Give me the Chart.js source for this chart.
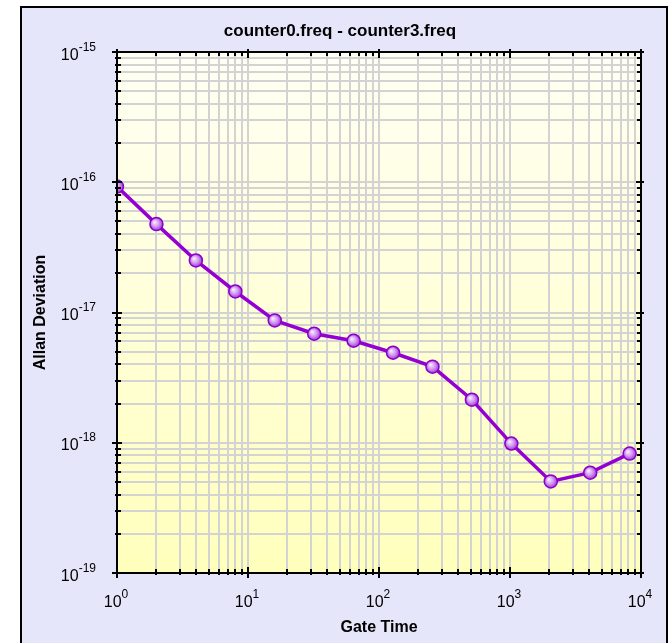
<!DOCTYPE html>
<html>
<head>
<meta charset="utf-8">
<style>
  html, body { margin: 0; padding: 0; background: #ffffff; }
  #wrap { width: 669px; height: 643px; }
</style>
<script src="https://cdn.jsdelivr.net/npm/chart.js@4.4.1/dist/chart.umd.min.js"></script>
</head>
<body>
<div id="wrap"><canvas id="c" width="669" height="643"></canvas></div>
<script>
// ---- Data ----
const gateTimes = [1, 2, 4, 8, 16, 32, 64, 128, 256, 512, 1024, 2048, 4096, 8192];
const allanDev = [9.27e-17, 4.77e-17, 2.51e-17, 1.45e-17, 8.7e-18, 6.87e-18, 6.07e-18,
                  4.91e-18, 3.84e-18, 2.14e-18, 9.86e-19, 5.05e-19, 5.89e-19, 8.26e-19];
const xTickExps = [0, 1, 2, 3, 4];
const yTickExps = [-19, -18, -17, -16, -15];
const titleText = 'counter0.freq - counter3.freq';
const xTitle = 'Gate Time';
const yTitle = 'Allan Deviation';

function logTicks(exps) {
  const t = [];
  for (let i = 0; i < exps.length - 1; i++) {
    for (let m = 1; m <= 9; m++) t.push({ value: m * Math.pow(10, exps[i]), major: m === 1 });
  }
  t.push({ value: Math.pow(10, exps[exps.length - 1]), major: true });
  return t;
}

const FONT = '"Liberation Sans", Arial, Helvetica, sans-serif';

const decorPlugin = {
  id: 'decor',
  beforeDraw(chart) {
    const ctx = chart.ctx;
    const a = chart.chartArea;
    ctx.save();
    ctx.fillStyle = '#ffffff';
    ctx.fillRect(0, 0, chart.width, chart.height);
    ctx.fillStyle = '#e6e6fa';
    ctx.fillRect(21, 7, 646, 700);
    ctx.strokeStyle = '#000000';
    ctx.lineWidth = 2;
    ctx.strokeRect(21, 7, 646, 700);
    const g = ctx.createLinearGradient(0, a.top, 0, a.bottom);
    g.addColorStop(0, '#fffff4');
    g.addColorStop(1, '#ffffbc');
    ctx.fillStyle = g;
    ctx.fillRect(a.left, a.top, a.right - a.left, a.bottom - a.top);
    ctx.restore();
  },
  afterDraw(chart) {
    const ctx = chart.ctx;
    const a = chart.chartArea;
    const xs = chart.scales.x, ys = chart.scales.y;
    ctx.save();
    ctx.strokeStyle = '#000000';
    ctx.lineWidth = 2;
    ctx.lineCap = 'butt';
    // axis frame
    ctx.beginPath();
    ctx.moveTo(a.left, a.top); ctx.lineTo(a.right, a.top);
    ctx.lineTo(a.right, a.bottom); ctx.lineTo(a.left, a.bottom); ctx.closePath();
    ctx.stroke();
    // tick marks
    ctx.beginPath();
    xs.ticks.forEach(t => {
      const px = Math.round(xs.getPixelForValue(t.value));
      const outL = t.major ? 5 : 2, inL = t.major ? 6 : 4;
      ctx.moveTo(px, a.bottom + outL); ctx.lineTo(px, a.bottom - inL);
      ctx.moveTo(px, a.top - (t.major ? 3 : 0)); ctx.lineTo(px, a.top + inL);
    });
    ys.ticks.forEach(t => {
      const py = Math.round(ys.getPixelForValue(t.value));
      const outL = t.major ? 5 : 2, inL = t.major ? 5 : 4;
      ctx.moveTo(a.left - outL, py); ctx.lineTo(a.left + inL, py);
      ctx.moveTo(a.right + (t.major ? 3 : 0), py); ctx.lineTo(a.right - inL, py);
    });
    ctx.stroke();

    // tick labels
    const mainF = '16px ' + FONT, supF = '12px ' + FONT;
    ctx.fillStyle = '#000000';
    ctx.textBaseline = 'alphabetic';
    xTickExps.forEach(e => {
      const px = xs.getPixelForValue(Math.pow(10, e));
      const sup = String(e);
      ctx.font = mainF; const w1 = ctx.measureText('10').width;
      ctx.font = supF; const w2 = ctx.measureText(sup).width;
      const x0 = px - (w1 + w2) / 2 - 1;
      ctx.font = mainF; ctx.textAlign = 'left';
      ctx.fillText('10', x0, a.bottom + 34);
      ctx.font = supF;
      ctx.fillText(sup, x0 + w1, a.bottom + 25);
    });
    yTickExps.forEach(e => {
      const py = ys.getPixelForValue(Math.pow(10, e));
      const sup = String(e);
      ctx.font = mainF; const w1 = ctx.measureText('10').width;
      ctx.font = supF; const w2 = ctx.measureText(sup).width;
      const right = a.left - 21;
      ctx.textAlign = 'left';
      ctx.font = mainF;
      ctx.fillText('10', right - w2 - w1, py + 7.5);
      ctx.font = supF;
      ctx.fillText(sup, right - w2, py - 1.5);
    });

    // titles
    ctx.font = 'bold 17px ' + FONT;
    ctx.textAlign = 'center';
    ctx.fillText(titleText, 340, 36);
    ctx.font = 'bold 16px ' + FONT;
    ctx.fillText(xTitle, (a.left + a.right) / 2, 632);
    ctx.save();
    ctx.translate(45, (a.top + a.bottom) / 2);
    ctx.rotate(-Math.PI / 2);
    ctx.fillText(yTitle, 0, 0);
    ctx.restore();
    ctx.restore();
  }
};

function pointFill(c) {
  const chart = c.chart;
  if (c.type !== 'data' || !chart.scales || !chart.scales.x || !c.parsed) return '#c47ae8';
  try {
    const x = chart.scales.x.getPixelForValue(c.parsed.x);
    const y = chart.scales.y.getPixelForValue(c.parsed.y);
    if (!isFinite(x) || !isFinite(y)) return '#c47ae8';
    const g = chart.ctx.createRadialGradient(x - 2, y - 2, 0.5, x, y, 7);
    g.addColorStop(0, '#f6e8ff');
    g.addColorStop(0.5, '#d296f2');
    g.addColorStop(1, '#9a2ad0');
    return g;
  } catch (err) { return '#c47ae8'; }
}

new Chart(document.getElementById('c'), {
  type: 'line',
  data: {
    datasets: [{
      data: gateTimes.map((t, i) => ({ x: t, y: allanDev[i] })),
      borderColor: '#9400d3',
      borderWidth: 3.5,
      pointRadius: 6.5,
      pointBorderWidth: 1.5,
      pointBorderColor: '#8a00c8',
      pointBackgroundColor: pointFill,
      tension: 0
    }]
  },
  options: {
    responsive: false,
    devicePixelRatio: 1,
    animation: false,
    events: [],
    layout: { padding: { top: 52, right: 28, left: 0, bottom: 0 } },
    plugins: { legend: { display: false }, tooltip: { enabled: false }, title: { display: false } },
    scales: {
      x: {
        type: 'logarithmic', min: 1, max: 10000,
        afterBuildTicks: s => { s.ticks = logTicks(xTickExps); },
        afterFit: s => { s.height = 70; },
        ticks: { display: false },
        border: { display: false },
        grid: { color: '#d3d3d3', lineWidth: 2, drawTicks: false }
      },
      y: {
        type: 'logarithmic', min: 1e-19, max: 1e-15,
        afterBuildTicks: s => { s.ticks = logTicks(yTickExps); },
        afterFit: s => { s.width = 117; },
        ticks: { display: false },
        border: { display: false },
        grid: { color: '#d3d3d3', lineWidth: 2, drawTicks: false }
      }
    }
  },
  plugins: [decorPlugin]
});
</script>
</body>
</html>
